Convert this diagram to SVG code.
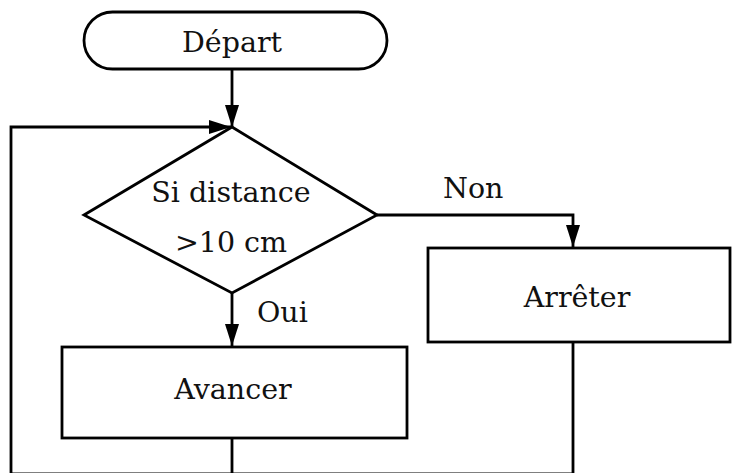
<svg xmlns="http://www.w3.org/2000/svg" width="734" height="473" viewBox="0 0 734 473">
<defs>
<marker id="arr" viewBox="0 0 22 14" refX="22" refY="7" markerWidth="22" markerHeight="14" markerUnits="userSpaceOnUse" orient="auto">
<path d="M0,0 L22,7 L0,14 Z" fill="#000"/>
</marker>
<style>
.s{fill:#fff;stroke:#000;stroke-width:2.8}
.c{fill:none;stroke:#000;stroke-width:2.8}
.t{font-family:"DejaVu Serif","Liberation Serif",serif;font-size:28.5px;fill:#111}
.m{text-anchor:middle}
</style>
</defs>
<rect width="734" height="473" fill="#fff"/>
<g id="connectors">
<path class="c" d="M232,70 V127" marker-end="url(#arr)"/>
<path class="c" d="M11,474 V127 H231" marker-end="url(#arr)"/>
<path class="c" d="M377,215 H573 V247" marker-end="url(#arr)"/>
<path class="c" d="M232,293 V346" marker-end="url(#arr)"/>
<path class="c" d="M232,438 V474 M573,342 V474 M11,474 H573"/>
</g>
<g id="depart">
<rect class="s" x="84" y="12" width="303" height="57" rx="28.5"/>
<text class="t m" x="232" y="52">Départ</text>
</g>
<g id="decision">
<path class="s" d="M232,127 L377,215 L232,293 L84,215 Z"/>
<text class="t m" x="231" y="202">Si distance</text>
<text class="t m" x="231" y="252">&gt;10 cm</text>
</g>
<g id="labels">
<text class="t" x="443" y="198">Non</text>
<text class="t" x="257" y="322">Oui</text>
</g>
<g id="arreter">
<rect class="s" x="428" y="248" width="302" height="94"/>
<text class="t m" x="577" y="307">Arrêter</text>
</g>
<g id="avancer">
<rect class="s" x="62" y="347" width="345" height="91"/>
<text class="t m" x="233" y="399">Avancer</text>
</g>
</svg>
